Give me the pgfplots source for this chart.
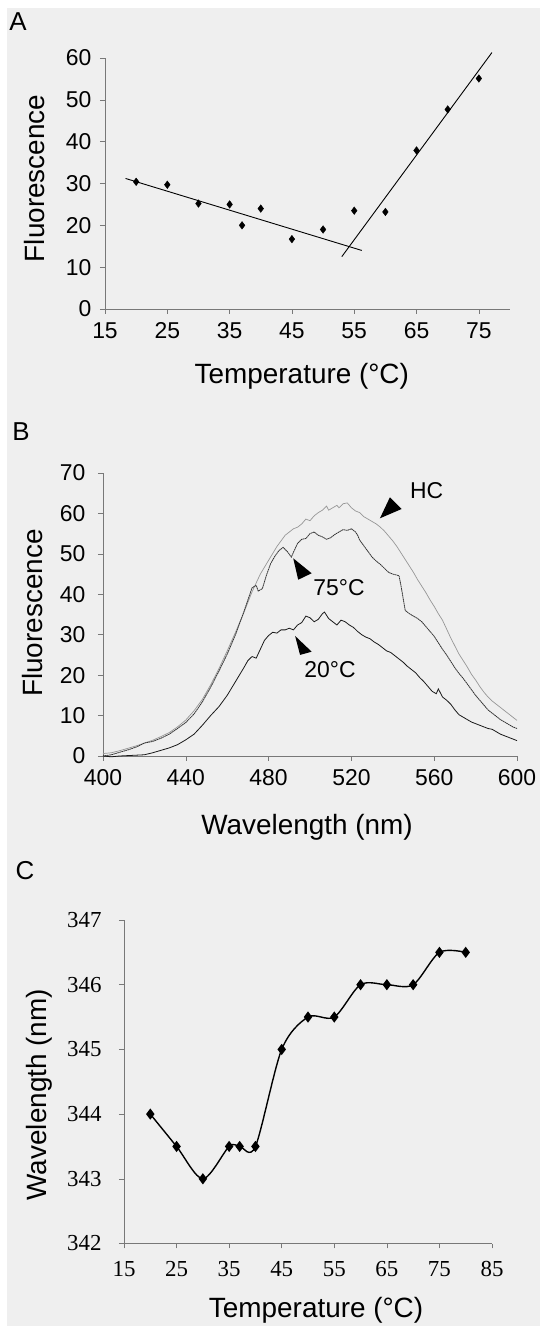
\documentclass[border=0pt]{standalone}
\usepackage{pgfplots}
\pgfplotsset{compat=1.18}
\usepackage{fontspec}
\setmainfont{Liberation Sans}
\newfontfamily\timesfont{Liberation Serif}

\definecolor{paper}{RGB}{239,239,239}
\definecolor{axisgray}{RGB}{120,120,120}
\definecolor{hcgray}{RGB}{150,150,150}

\pgfplotsset{
  scanaxis/.style={
    scale only axis,
    axis lines*=left,
    axis line style={axisgray, line width=0.6pt},
    tick style={axisgray, line width=0.6pt},
    tick align=outside,
    major tick length=5bp,
    /pgf/number format/assume math mode=true,
    ticklabel style={font=\fontsize{23}{23}\selectfont},
    xticklabel style={yshift=-5bp},
    yticklabel style={xshift=-5bp},
    label style={font=\fontsize{28}{28}\selectfont},
    clip=false,
  },
}

% panel B spectra
\pgfplotstableread{
x y
400 0.6
404 0.8
408 1.3
412 1.9
416 2.5
420 3.2
424 3.9
428 4.8
432 5.8
436 7.2
440 8.9
444 11.2
448 14.0
452 17.6
456 21.6
460 26.0
464 30.6
468 35.4
472 40.6
476 45.0
480 48.4
484 51.8
488 54.6
490 55.4
492 56.2
494 56.6
496 57.4
498 58.6
500 58.2
502 59.4
504 60.2
506 60.8
508 61.8
509 60.8
511 61.4
513 62.0
514 61.4
516 62.4
518 62.6
520 61.4
522 60.6
524 60.2
526 59.2
528 58.6
530 58.0
532 57.4
534 56.6
536 55.6
538 54.4
540 53.2
542 51.8
544 50.2
546 48.6
548 47.0
550 45.4
552 43.6
554 42.0
556 40.4
558 38.6
560 37.0
562 35.2
564 33.6
566 31.4
568 29.2
570 27.2
572 25.2
574 23.6
576 22.0
578 20.2
580 18.8
582 17.2
584 15.8
586 14.6
588 13.6
590 12.8
592 12.0
594 11.2
596 10.4
598 9.6
600 8.8
}\hcdata

\pgfplotstableread{
x y
400 0.0
404 0.3
408 0.9
412 1.5
416 2.2
420 3.2
424 3.6
428 4.4
432 5.4
436 6.8
440 8.3
444 10.4
448 13.4
452 17.0
456 21.0
460 25.2
464 30.0
468 35.6
470 38.6
472 41.6
474 42.2
475 40.8
477 41.4
479 44.8
481 47.6
483 49.4
485 50.8
487 51.6
489 50.6
491 49.2
492 50.4
494 52.6
496 53.6
498 53.8
500 55.0
502 55.4
504 54.6
506 54.2
508 53.6
510 54.0
512 54.8
514 55.4
516 56.0
518 55.8
520 56.2
522 55.4
523 54.6
524 53.4
526 52.0
528 50.6
530 49.2
532 48.2
534 47.4
536 46.4
538 45.4
540 45.0
543 44.6
544 42.0
545 39.0
546 36.0
548 35.2
550 34.6
552 34.0
554 33.2
556 32.0
558 30.8
560 29.6
562 28.0
564 26.4
566 25.0
568 23.4
570 21.8
572 20.4
574 19.2
576 17.8
578 16.4
580 15.0
582 13.8
584 12.6
586 11.4
588 10.6
590 9.8
592 9.0
594 8.4
596 7.8
598 7.2
600 6.8
}\hotdata

\pgfplotstableread{
x y
400 0.0
404 -0.2
408 0.0
412 0.1
416 0.2
420 0.3
424 0.8
428 1.4
432 2.0
436 2.8
440 4.0
444 5.4
448 7.6
452 10.0
456 12.2
460 15.0
464 18.4
468 21.8
470 23.6
472 24.6
474 24.2
476 26.4
478 28.6
480 29.8
482 30.6
484 30.4
486 31.2
488 31.2
490 31.6
492 31.2
494 32.4
496 33.0
498 34.6
500 34.2
502 33.2
504 33.8
506 35.2
507 35.6
509 34.0
511 33.2
513 32.4
515 33.6
517 33.2
519 32.4
521 31.8
523 30.8
525 30.0
527 29.4
529 29.0
531 28.2
533 27.6
535 26.8
537 26.0
539 25.6
541 24.8
543 24.0
545 23.2
547 22.2
549 21.4
551 20.6
553 19.4
555 18.4
557 17.2
559 16.0
561 15.4
562 16.6
564 14.6
566 13.8
568 12.8
570 11.4
572 10.2
574 9.6
576 9.0
578 8.4
580 8.0
582 7.6
584 7.2
586 6.8
588 6.6
590 6.0
592 5.4
594 5.0
596 4.6
598 4.2
600 3.8
}\colddata

\begin{document}
\begin{tikzpicture}
\fill[white] (0bp,0bp) rectangle (540bp,1326bp);
\fill[paper] (7bp,0bp) rectangle (540bp,1318bp);

\node[font=\fontsize{26}{26}\selectfont] at (18bp,1304bp) {A};
\node[font=\fontsize{26}{26}\selectfont] at (21bp,894bp) {B};
\node[font=\fontsize{26}{26}\selectfont] at (25bp,455bp) {C};

% A
\begin{axis}[scanaxis,
  at={(105bp,1017bp)}, anchor=south west,
  width=405bp, height=251bp,
  xmin=15, xmax=80, ymin=0, ymax=60,
  xtick={15,25,...,75}, ytick={0,10,...,60},
  xlabel={Temperature (°C)}, ylabel={Fluorescence},
  xlabel style={at={(axis description cs:0.486,-0.267)}, anchor=center},
  ylabel style={at={(axis description cs:-0.173,0.52)}, anchor=center},
]
\addplot[only marks, mark=diamond*, mark size=3.8pt, black] coordinates {
  (20,30.4) (25,29.7) (30,25.2) (35,25.0) (37,20.0) (40,24.0)
  (45,16.7) (50,19.0) (55,23.5) (60,23.2) (65,37.9) (70,47.7) (75,55.1)
};
\addplot[black, line width=0.9pt] coordinates {(18.3,31.2) (56.2,14.0)};
\addplot[black, line width=0.9pt] coordinates {(53.0,12.5) (77.1,61.3)};
\end{axis}

% B
\begin{axis}[scanaxis,
  at={(103bp,570bp)}, anchor=south west,
  width=414bp, height=283bp,
  xmin=400, xmax=600, ymin=0, ymax=70,
  xtick={400,440,...,600}, ytick={0,10,...,70},
  yticklabel style={xshift=-4bp},
  xlabel={Wavelength (nm)}, ylabel={Fluorescence},
  xlabel style={at={(axis description cs:0.493,-0.251)}, anchor=center},
  ylabel style={at={(axis description cs:-0.171,0.505)}, anchor=center},
]
\addplot[hcgray, line width=0.7pt] table {\hcdata};
\addplot[black!80, line width=0.8pt, dash pattern=on 1.6pt off 0.5pt] table {\hotdata};
\addplot[black!90, line width=0.8pt] table {\colddata};
\fill (axis cs:533.8,58.8) -- (axis cs:538.6,64.0) -- (axis cs:544.3,61.1) -- cycle;
\node[font=\fontsize{23}{23}\selectfont, anchor=west] at (axis cs:546.7,65.6) {HC};
\fill (axis cs:491.9,48.9) -- (axis cs:500.8,45.2) -- (axis cs:494.3,43.6) -- cycle;
\node[font=\fontsize{23}{23}\selectfont] at (axis cs:514,41.6) {75°C};
\fill (axis cs:492.8,29.7) -- (axis cs:500.8,25.8) -- (axis cs:495.2,25.0) -- cycle;
\node[font=\fontsize{23}{23}\selectfont] at (axis cs:509.7,21.3) {20°C};
\end{axis}

% C
\begin{axis}[scanaxis,
  at={(124bp,82.5bp)}, anchor=south west,
  width=368bp, height=323.5bp,
  xmin=15, xmax=85, ymin=342, ymax=347,
  xtick={15,25,...,85}, ytick={342,343,...,347},
  ticklabel style={font=\timesfont\fontsize{23}{23}\selectfont},
  xticklabel style={yshift=-4bp},
  yticklabel style={xshift=-9bp},
  /pgf/number format/1000 sep={},
  xlabel={Temperature (°C)}, ylabel={Wavelength (nm)},
  xlabel style={at={(axis description cs:0.522,-0.206)}, anchor=center},
  ylabel style={at={(axis description cs:-0.23,0.46)}, anchor=center},
]
\addplot[black, line width=1.4pt, smooth, tension=0.5,
  mark=diamond*, mark size=4.5pt] coordinates {
  (20,344.0) (25,343.5) (30,343.0) (35,343.5) (37,343.5) (40,343.5)
  (45,345.0) (50,345.5) (55,345.5) (60,346.0) (65,346.0) (70,346.0)
  (75,346.5) (80,346.5)
};
\end{axis}

\pgfresetboundingbox
\useasboundingbox (0bp,0bp) rectangle (540bp,1326bp);
\end{tikzpicture}
\end{document}
